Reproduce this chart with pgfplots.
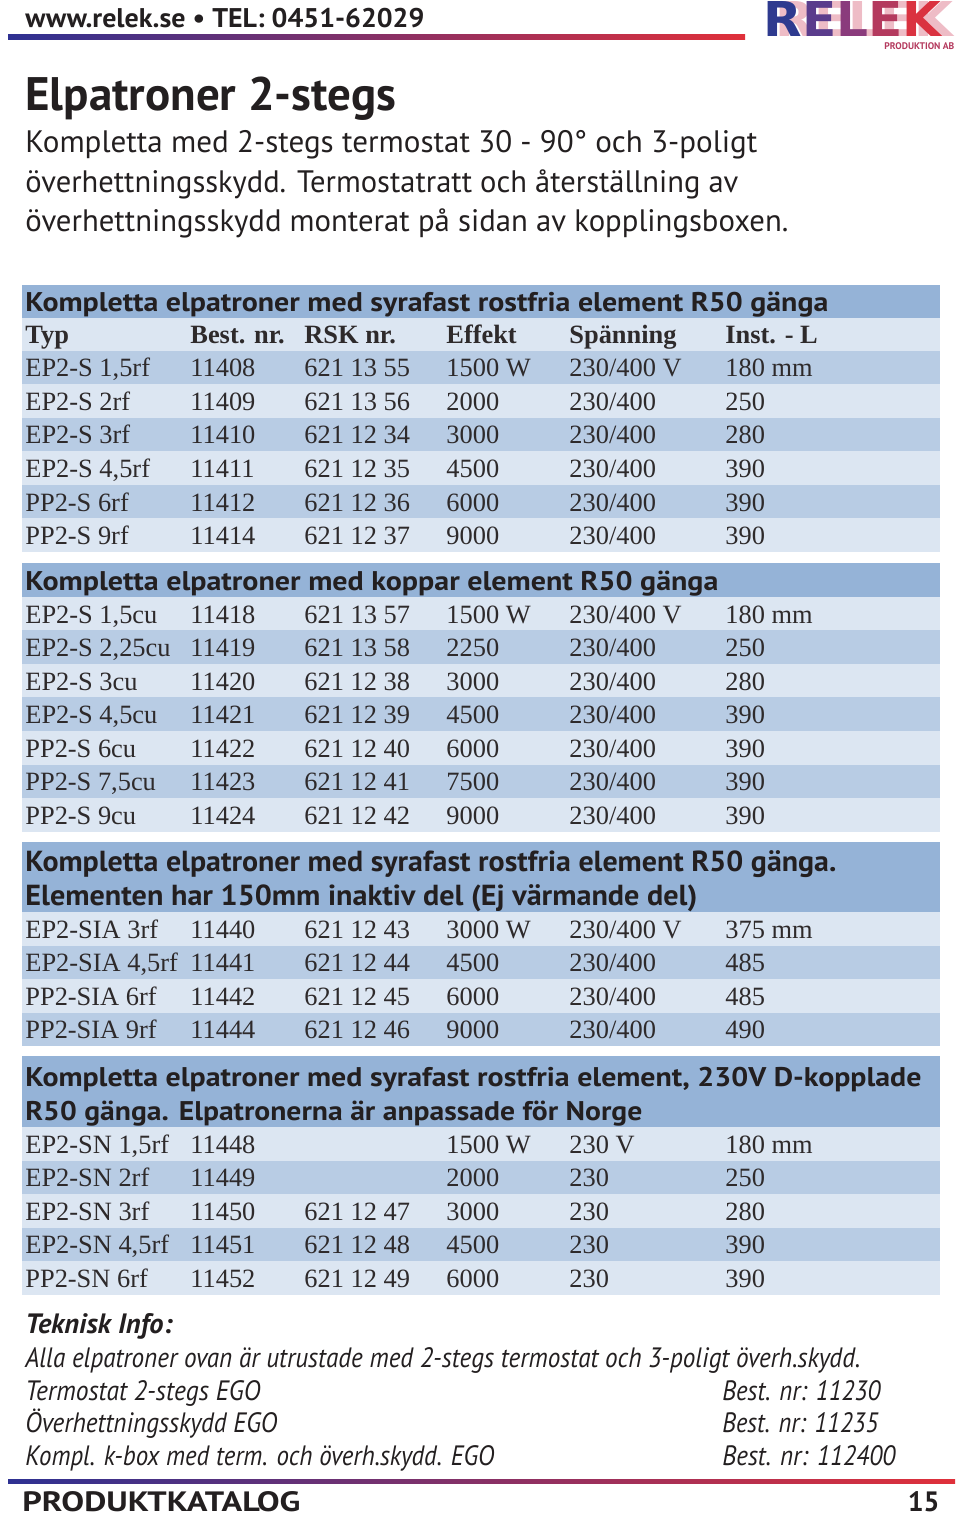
\documentclass[border=0pt]{standalone}
\usepackage{pgfplots}
\pgfplotsset{compat=1.18}
\usepackage{fontspec}
\setmainfont{Liberation Serif}
\newfontfamily\gill{PT Sans}
\newfontfamily\logofont{DejaVu Sans}

\definecolor{hdr}{HTML}{95B3D7}
\definecolor{dk}{HTML}{B8CCE4}
\definecolor{lt}{HTML}{DCE6F2}
\definecolor{ink}{HTML}{231F20}
\definecolor{body}{HTML}{2E2A2B}
\definecolor{rblue}{HTML}{2E3192}
\definecolor{rred}{HTML}{E0303A}
\definecolor{lA}{HTML}{2E3A8F}
\definecolor{lB}{HTML}{5A3C8C}
\definecolor{lC}{HTML}{8A3B7C}
\definecolor{lD}{HTML}{B43A5E}
\definecolor{lE}{HTML}{DA3240}
\definecolor{gh}{HTML}{EEBCC6}

\tikzset{tcell/.style={anchor=base west, inner sep=0pt, text=body, font=\fontsize{13.2}{16}\selectfont}}

% 1 px of the page = 0.5pt
\newcommand\stripe[3]{\addplot[draw=none,fill=#3,forget plot] coordinates {(22,#1) (940,#1) (940,#2) (22,#2)};}
\newcommand\cell[2]{\node[tcell] at (axis cs:#1) {#2};}
\newcommand\trow[7]{\cell{25,#1}{#2}\cell{190,#1}{#3}\cell{304,#1}{#4}\cell{446,#1}{#5}\cell{569,#1}{#6}\cell{725,#1}{#7}}
% text at a given font size, stretched to the width it has on the page
\newcommand\txt[4]{\node[anchor=base west,inner sep=0pt,text=ink] at (axis cs:#1)
  {\resizebox{#2pt}{\height}{\fontsize{#3}{#3}\selectfont #4}};}

\begin{document}
\begin{tikzpicture}
\begin{axis}[
    width=480pt, height=759pt, scale only axis,
    xmin=0, xmax=960, ymin=0, ymax=1518, y dir=reverse,
    hide axis, clip=false,
]
\path (rel axis cs:0,0) rectangle (rel axis cs:1,1);

% row stripes
\stripe{285}{318}{hdr}\stripe{318}{351}{lt}\stripe{351}{384}{dk}\stripe{384}{418}{lt}
\stripe{418}{451}{dk}\stripe{451}{485}{lt}\stripe{485}{518}{dk}\stripe{518}{552}{lt}
\stripe{563}{597}{hdr}\stripe{597}{630}{lt}\stripe{630}{664}{dk}\stripe{664}{697}{lt}
\stripe{697}{731}{dk}\stripe{731}{765}{lt}\stripe{765}{798}{dk}\stripe{798}{832}{lt}
\stripe{842}{912}{hdr}\stripe{912}{946}{lt}\stripe{946}{979}{dk}\stripe{979}{1013}{lt}\stripe{1013}{1046}{dk}
\stripe{1056}{1127}{hdr}\stripe{1127}{1161}{lt}\stripe{1161}{1194}{dk}\stripe{1194}{1228}{lt}
\stripe{1228}{1261}{dk}\stripe{1261}{1295}{lt}

% page header
\txt{25,28}{199.5}{13.5}{\gill\bfseries www.relek.se \textbullet\ TEL: 0451-62029}
\shade[left color=rblue,right color=rred] (axis cs:8,35) rectangle (axis cs:745,40);
\node[anchor=base west,inner sep=0pt] at (axis cs:775,37)
  {\resizebox{89pt}{17.5pt}{\logofont\bfseries\color{gh}RELEK}};
\node[anchor=base west,inner sep=0pt] at (axis cs:763,37)
  {\resizebox{89pt}{17.5pt}{\logofont\bfseries\textcolor{lA}{R}\textcolor{lB}{E}\textcolor{lC}{L}\textcolor{lD}{E}\textcolor{lE}{K}}};
\node[anchor=base west,inner sep=0pt] at (axis cs:884,50)
  {\resizebox{35pt}{!}{\gill\bfseries\color{lD}PRODUKTION AB}};

% title and intro
\txt{25,111}{185.5}{23.5}{\gill\bfseries Elpatroner 2-stegs}
\txt{25,153}{366}{15.5}{\gill Kompletta med 2-stegs termostat 30 - 90° och 3-poligt}
\txt{25,193}{356.5}{15.5}{\gill överhettningsskydd. Termostatratt och återställning av}
\txt{25,232}{381.5}{15.5}{\gill överhettningsskydd monterat på sidan av kopplingsboxen.}

% section 1
\txt{25,312}{401.5}{13.5}{\gill\bfseries Kompletta elpatroner med syrafast rostfria element R50 gänga}
\trow{344}{\textbf{Typ}}{\textbf{Best. nr.}}{\textbf{RSK nr.}}{\textbf{Effekt}}{\textbf{Spänning}}{\textbf{Inst. - L}}
\trow{377}{EP2-S 1,5rf}{11408}{621 13 55}{1500 W}{230/400 V}{180 mm}
\trow{410}{EP2-S 2rf}{11409}{621 13 56}{2000}{230/400}{250}
\trow{444}{EP2-S 3rf}{11410}{621 12 34}{3000}{230/400}{280}
\trow{477}{EP2-S 4,5rf}{11411}{621 12 35}{4500}{230/400}{390}
\trow{511}{PP2-S 6rf}{11412}{621 12 36}{6000}{230/400}{390}
\trow{544}{PP2-S 9rf}{11414}{621 12 37}{9000}{230/400}{390}

% section 2
\txt{25,590}{346.5}{13.5}{\gill\bfseries Kompletta elpatroner med koppar element R50 gänga}
\trow{623}{EP2-S 1,5cu}{11418}{621 13 57}{1500 W}{230/400 V}{180 mm}
\trow{656}{EP2-S 2,25cu}{11419}{621 13 58}{2250}{230/400}{250}
\trow{690}{EP2-S 3cu}{11420}{621 12 38}{3000}{230/400}{280}
\trow{723}{EP2-S 4,5cu}{11421}{621 12 39}{4500}{230/400}{390}
\trow{757}{PP2-S 6cu}{11422}{621 12 40}{6000}{230/400}{390}
\trow{790}{PP2-S 7,5cu}{11423}{621 12 41}{7500}{230/400}{390}
\trow{824}{PP2-S 9cu}{11424}{621 12 42}{9000}{230/400}{390}

% section 3
\txt{25,871}{405.5}{14.5}{\gill\bfseries Kompletta elpatroner med syrafast rostfria element R50 gänga.}
\txt{25,905}{336}{14.5}{\gill\bfseries Elementen har 150mm inaktiv del (Ej värmande del)}
\trow{938}{EP2-SIA 3rf}{11440}{621 12 43}{3000 W}{230/400 V}{375 mm}
\trow{971}{EP2-SIA 4,5rf}{11441}{621 12 44}{4500}{230/400}{485}
\trow{1005}{PP2-SIA 6rf}{11442}{621 12 45}{6000}{230/400}{485}
\trow{1038}{PP2-SIA 9rf}{11444}{621 12 46}{9000}{230/400}{490}

% section 4
\txt{25,1086}{448}{13.5}{\gill\bfseries Kompletta elpatroner med syrafast rostfria element, 230V D-kopplade}
\txt{25,1120}{308.5}{13.5}{\gill\bfseries R50 gänga. Elpatronerna är anpassade för Norge}
\trow{1153}{EP2-SN 1,5rf}{11448}{}{1500 W}{230 V}{180 mm}
\trow{1186}{EP2-SN 2rf}{11449}{}{2000}{230}{250}
\trow{1220}{EP2-SN 3rf}{11450}{621 12 47}{3000}{230}{280}
\trow{1253}{EP2-SN 4,5rf}{11451}{621 12 48}{4500}{230}{390}
\trow{1287}{PP2-SN 6rf}{11452}{621 12 49}{6000}{230}{390}

% technical info
\txt{25,1333}{73.5}{14}{\gill\bfseries\itshape Teknisk Info:}
\txt{25,1367}{417.5}{14}{\gill\itshape Alla elpatroner ovan är utrustade med 2-stegs termostat och 3-poligt överh.skydd.}
\txt{25,1400}{117.5}{14}{\gill\itshape Termostat 2-stegs EGO}
\txt{25,1432}{126}{14}{\gill\itshape Överhettningsskydd EGO}
\txt{25,1465}{234.5}{14}{\gill\itshape Kompl. k-box med term. och överh.skydd. EGO}
\txt{722,1400}{79}{14}{\gill\itshape Best. nr: 11230}
\txt{722,1432}{78}{14}{\gill\itshape Best. nr: 11235}
\txt{722,1465}{86.5}{14}{\gill\itshape Best. nr: 112400}

% page footer
\shade[left color=rblue,right color=rred] (axis cs:8,1479) rectangle (axis cs:955,1483);
\txt{22,1511}{139}{14}{\gill\bfseries PRODUKTKATALOG}
\node[anchor=base east,inner sep=0pt,text=ink] at (axis cs:940,1511)
  {\fontsize{14}{14}\selectfont\gill\bfseries 15};
\end{axis}
\end{tikzpicture}
\end{document}
